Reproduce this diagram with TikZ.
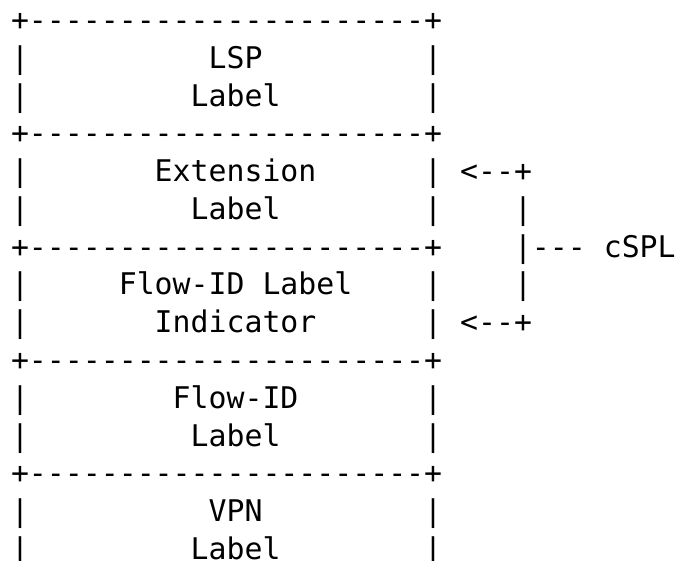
\documentclass[tikz,border=0pt]{standalone}
\usepackage{fontspec}
\setmonofont{DejaVu Sans Mono}
\usetikzlibrary{positioning}
\newcommand{\blank}[1]{\hskip#1\fontdimen2\font\relax}

\begin{document}
\begin{tikzpicture}[x=0.75pt,y=-0.75pt,node distance=0pt,
		row/.style={inner sep=0pt,outer sep=0pt,text height=21pt,text depth=7.33pt,font=\ttfamily\fontsize{22.38}{28}\selectfont}]
		\useasboundingbox (0,0) rectangle (679,561);
		% 标签栈
		\node[row,anchor=base west] (top) at (11.02,30.5) {+----------------------+};
		\node[row] (lsp) [below=of top.south west,anchor=north west] {|\blank{10}LSP\blank{9}|};
		\node[row] (lsplbl) [below=of lsp.south west,anchor=north west] {|\blank{9}Label\blank{8}|};
		\node[row] (sep1) [below=of lsplbl.south west,anchor=north west] {+----------------------+};
		\node[row] (ext) [below=of sep1.south west,anchor=north west] {|\blank{7}Extension\blank{6}|\blank{1}<--+};
		\node[row] (extlbl) [below=of ext.south west,anchor=north west] {|\blank{9}Label\blank{8}|\blank{4}|};
		\node[row] (sep2) [below=of extlbl.south west,anchor=north west] {+----------------------+\blank{4}|---\blank{1}cSPL};
		\node[row] (fli) [below=of sep2.south west,anchor=north west] {|\blank{5}Flow-ID Label\blank{4}|\blank{4}|};
		\node[row] (flilbl) [below=of fli.south west,anchor=north west] {|\blank{7}Indicator\blank{6}|\blank{1}<--+};
		\node[row] (sep3) [below=of flilbl.south west,anchor=north west] {+----------------------+};
		\node[row] (flow) [below=of sep3.south west,anchor=north west] {|\blank{8}Flow-ID\blank{7}|};
		\node[row] (flowlbl) [below=of flow.south west,anchor=north west] {|\blank{9}Label\blank{8}|};
		\node[row] (sep4) [below=of flowlbl.south west,anchor=north west] {+----------------------+};
		\node[row] (vpn) [below=of sep4.south west,anchor=north west] {|\blank{10}VPN\blank{9}|};
		\node[row] (vpnlbl) [below=of vpn.south west,anchor=north west] {|\blank{9}Label\blank{8}|};
		\end{tikzpicture}
\end{document}
